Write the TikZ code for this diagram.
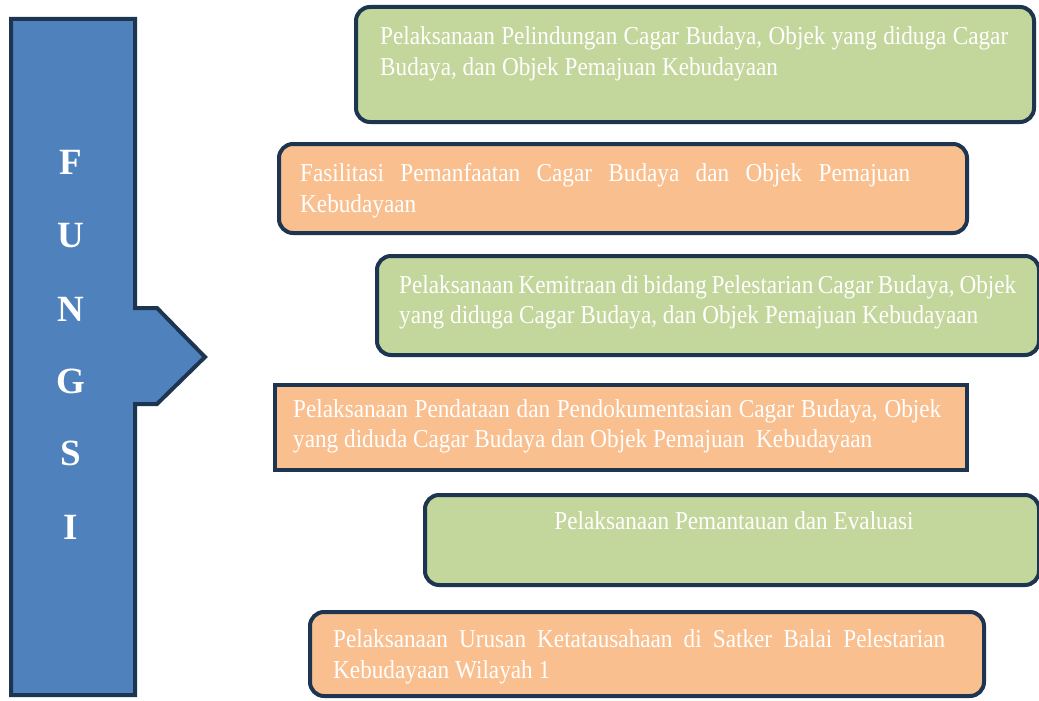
\documentclass[tikz,border=0pt]{standalone}
\usepackage{fontspec}
\setmainfont{Liberation Serif}
\newfontfamily\boxfont[FakeStretch=0.9]{Liberation Serif}
\definecolor{navy}{HTML}{1E3552}
\definecolor{bluefill}{HTML}{4F81BD}
\definecolor{greenfill}{HTML}{C3D69B}
\definecolor{orangefill}{HTML}{F9BF8F}
\tikzset{
  box/.style={draw=navy, line width=4pt, rounded corners=14pt, anchor=north west, inner sep=0pt, outer sep=0pt},
  gbox/.style={box, fill=greenfill},
  obox/.style={box, fill=orangefill},
  txt/.style={text=white, font=\boxfont\fontsize{25.8}{30}\selectfont, inner sep=0pt, anchor=base west},
  letter/.style={text=white, font=\fontsize{37}{37}\selectfont\bfseries, inner sep=0pt},
}
\begin{document}
\begin{tikzpicture}[x=1pt,y=-1pt]
\useasboundingbox (0,0) rectangle (1039,701);
% arrow shape
\draw[navy, line width=4pt, fill=bluefill, line join=miter]
  (11,19) -- (135,19) -- (135,308) -- (157,308) -- (205,357) -- (157,404) -- (135,404) -- (135,695) -- (11,695) -- cycle;
\node[letter] (lF) at (71,162) {F};
\node[letter] (lU) at (71,236) {U};
\node[letter] (lN) at (71,309) {N};
\node[letter] (lG) at (71,381) {G};
\node[letter] (lS) at (71,453) {S};
\node[letter] (lI) at (71,527) {I};
% boxes
\node[gbox, minimum width=678pt, minimum height=115pt] (b1) at (356,7) {};
\node[obox, minimum width=688pt, minimum height=89pt] (b2) at (279,144) {};
\node[gbox, minimum width=662pt, minimum height=99pt] (b3) at (377,256) {};
\node[obox, rounded corners=0pt, minimum width=692pt, minimum height=85pt] (b4) at (275,385) {};
\node[gbox, minimum width=614pt, minimum height=90pt] (b5) at (425,495) {};
\node[obox, minimum width=674pt, minimum height=84pt] (b6) at (310,612) {};
% texts
\node[txt] (t1a) at (380,45) {\makebox[628pt][s]{Pelaksanaan Pelindungan Cagar Budaya, Objek yang diduga Cagar}};
\node[txt] (t1b) at (380,76) {Budaya, dan Objek Pemajuan Kebudayaan};
\node[txt] (t2a) at (300,181) {\makebox[610pt][s]{Fasilitasi Pemanfaatan Cagar Budaya dan Objek Pemajuan}};
\node[txt] (t2b) at (300,212) {Kebudayaan};
\node[txt] (t3a) at (399,293) {\makebox[617pt][s]{Pelaksanaan Kemitraan di bidang Pelestarian Cagar Budaya, Objek}};
\node[txt] (t3b) at (399,323) {yang diduga Cagar Budaya, dan Objek Pemajuan Kebudayaan};
\node[txt] (t4a) at (293,417) {\makebox[648pt][s]{Pelaksanaan Pendataan dan Pendokumentasian Cagar Budaya, Objek}};
\node[txt] (t4b) at (293,447) {yang diduda Cagar Budaya dan Objek Pemajuan\ \ Kebudayaan};
\node[txt, anchor=base] (t5) at (734,529) {Pelaksanaan Pemantauan dan Evaluasi};
\node[txt] (t6a) at (333,647) {\makebox[612pt][s]{Pelaksanaan Urusan Ketatausahaan di Satker Balai Pelestarian}};
\node[txt] (t6b) at (333,678) {Kebudayaan Wilayah 1};
\end{tikzpicture}
\end{document}
